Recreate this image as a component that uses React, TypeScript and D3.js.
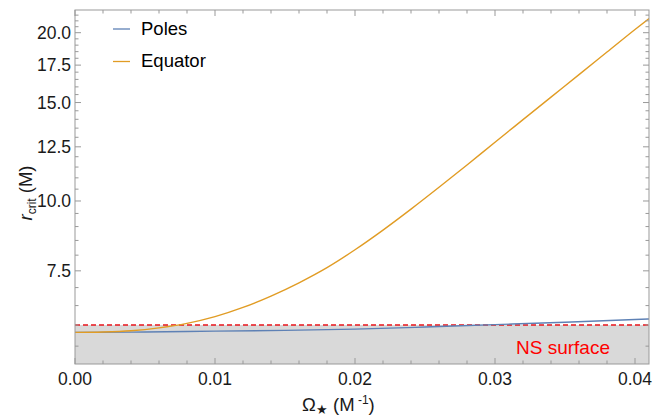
import React from "react";
import * as d3 from "d3";

const omegaPoles = [0, 0.005, 0.01, 0.015, 0.02, 0.025, 0.03, 0.035, 0.041];
const rPoles = [5.82, 5.83, 5.85, 5.87, 5.9, 5.95, 6.01, 6.07, 6.15];

const omegaEq = [0, 0.002, 0.004, 0.006, 0.008, 0.01, 0.012, 0.014, 0.016, 0.018, 0.02, 0.022, 0.024, 0.026, 0.028, 0.03, 0.032, 0.034, 0.036, 0.038, 0.04, 0.041];
const rEq = [5.82, 5.83, 5.86, 5.93, 6.04, 6.21, 6.45, 6.76, 7.14, 7.6, 8.18, 8.87, 9.67, 10.58, 11.6, 12.74, 13.98, 15.34, 16.83, 18.47, 20.27, 21.2];

const nsRadius = 6.0;
const yMajorTicks = [7.5, 10.0, 12.5, 15.0, 17.5, 20.0];
const xMajorTicks = [0, 0.01, 0.02, 0.03, 0.04];
const seriesNames = ["Poles", "Equator"];
const seriesColors = ["#5E81B5", "#E19C24"];

const W = 655, H = 416;
const L = 75, R = 649, T = 10, B = 364;
const FONT = "'Liberation Sans', Arial, sans-serif";

export default function App() {
  const x = d3.scaleLinear().domain([0, 0.041]).range([L, R]);
  const y = d3.scaleLog().domain([5.11, 21.96]).range([B, T]);

  const yMinor: number[] = [];
  for (let v = 5.5; v <= 21.75; v += 0.5) {
    if (!yMajorTicks.some((m) => Math.abs(m - v) < 1e-6)) yMinor.push(v);
  }
  const xMinor: number[] = [];
  for (let i = 0; i <= 20; i++) {
    const v = i * 0.002;
    if (!xMajorTicks.some((m) => Math.abs(m - v) < 1e-9)) xMinor.push(v);
  }

  const line = d3
    .line<[number, number]>()
    .x((d) => x(d[0]))
    .y((d) => y(d[1]))
    .curve(d3.curveMonotoneX);

  const polesPath = line(omegaPoles.map((o, i) => [o, rPoles[i]]) as [number, number][]) || "";
  const eqPath = line(omegaEq.map((o, i) => [o, rEq[i]]) as [number, number][]) || "";

  const frameColor = "#999999";
  const majLen = 6, minLen = 3.5;

  return (
    <svg width={W} height={H} style={{ position: "absolute", left: 0, top: 0 }} fontFamily={FONT}>
      <defs>
        <clipPath id="plotclip">
          <rect x={L} y={T} width={R - L} height={B - T} />
        </clipPath>
      </defs>
      <rect x={0} y={0} width={W} height={H} fill="#fff" />
      {/* NS surface region */}
      <rect x={L} y={y(nsRadius)} width={R - L} height={B - y(nsRadius)} fill="#D9D9D9" />
      <line x1={L} x2={R} y1={y(nsRadius)} y2={y(nsRadius)} stroke="#E8141B" strokeWidth={1.4} strokeDasharray="5,3" />
      <g clipPath="url(#plotclip)">
        <path d={polesPath} fill="none" stroke={seriesColors[0]} strokeWidth={1.4} />
        <path d={eqPath} fill="none" stroke={seriesColors[1]} strokeWidth={1.4} />
      </g>
      {/* frame */}
      <rect x={L} y={T} width={R - L} height={B - T} fill="none" stroke={frameColor} strokeWidth={1} />
      {/* y ticks */}
      {yMajorTicks.map((v) => (
        <g key={"ym" + v}>
          <line x1={L} x2={L + majLen} y1={y(v)} y2={y(v)} stroke={frameColor} />
          <line x1={R} x2={R - majLen} y1={y(v)} y2={y(v)} stroke={frameColor} />
          <text x={L - 4} y={y(v)} dy="0.36em" textAnchor="end" fontSize={17.5} fill="#1a1a1a">
            {v.toFixed(1)}
          </text>
        </g>
      ))}
      {yMinor.map((v) => (
        <g key={"yn" + v}>
          <line x1={L} x2={L + minLen} y1={y(v)} y2={y(v)} stroke={frameColor} />
          <line x1={R} x2={R - minLen} y1={y(v)} y2={y(v)} stroke={frameColor} />
        </g>
      ))}
      {/* x ticks */}
      {xMajorTicks.map((v) => (
        <g key={"xm" + v}>
          <line x1={x(v)} x2={x(v)} y1={B} y2={B - majLen} stroke={frameColor} />
          <line x1={x(v)} x2={x(v)} y1={T} y2={T + majLen} stroke={frameColor} />
          <text x={x(v)} y={385} textAnchor="middle" fontSize={17.5} fill="#1a1a1a">
            {v.toFixed(2)}
          </text>
        </g>
      ))}
      {xMinor.map((v) => (
        <g key={"xn" + v}>
          <line x1={x(v)} x2={x(v)} y1={B} y2={B - minLen} stroke={frameColor} />
          <line x1={x(v)} x2={x(v)} y1={T} y2={T + minLen} stroke={frameColor} />
        </g>
      ))}
      {/* NS surface label */}
      <text x={516} y={354} fontSize={19} fill="#FF0000">NS surface</text>
      {/* legend */}
      {seriesNames.map((n, i) => (
        <g key={n}>
          <line x1={113} x2={130} y1={29 + i * 32.5} y2={29 + i * 32.5} stroke={seriesColors[i]} strokeWidth={1.3} />
          <text x={141} y={35 + i * 32} fontSize={18.5} fill="#000">{n}</text>
        </g>
      ))}
      {/* x label */}
      <text x={302} y={411} fontSize={18.5} fill="#1a1a1a">
        Ω
        <tspan fontSize={13} dy={2.5}>★</tspan>
        <tspan dy={-2.5}> (M</tspan>
        <tspan fontSize={12} dy={-7}> -1</tspan>
        <tspan dy={7}>)</tspan>
      </text>
      {/* y label */}
      <text transform="translate(32,193) rotate(-90)" textAnchor="middle" fontSize={18.5} fill="#1a1a1a">
        <tspan fontStyle="italic">r</tspan>
        <tspan fontSize={12} dy={4}>crit</tspan>
        <tspan dy={-4}> (M)</tspan>
      </text>
    </svg>
  );
}
